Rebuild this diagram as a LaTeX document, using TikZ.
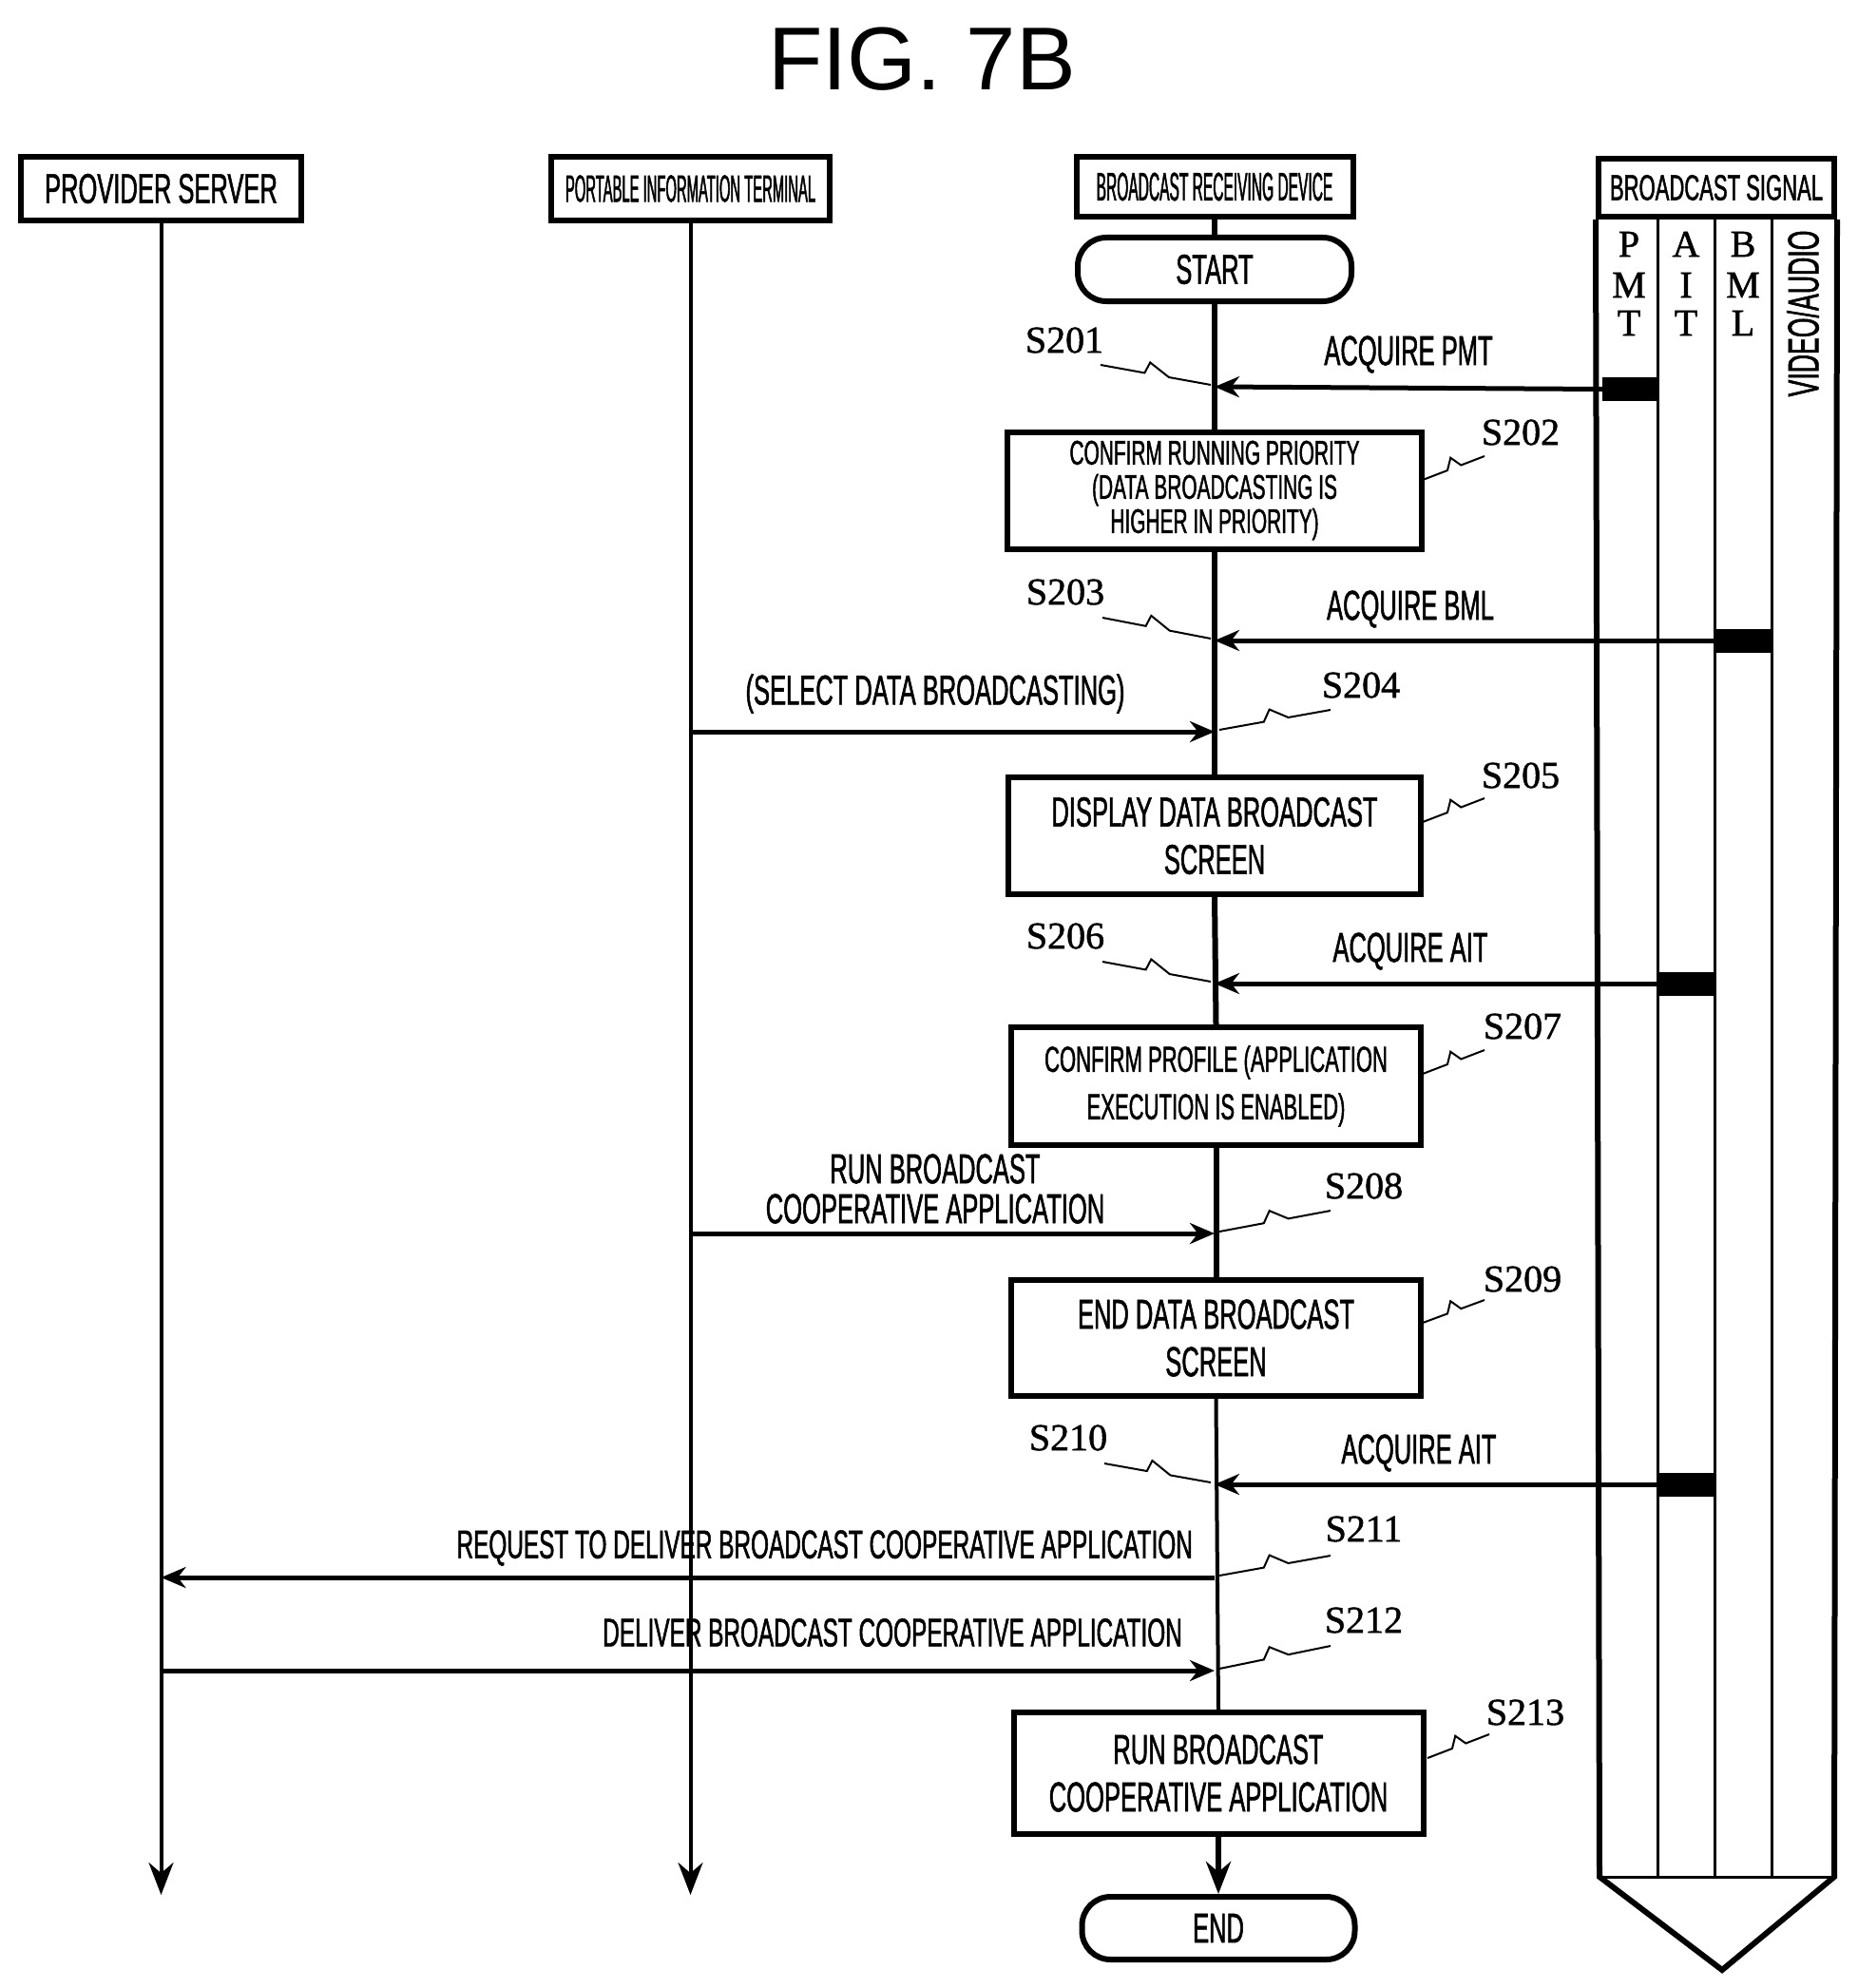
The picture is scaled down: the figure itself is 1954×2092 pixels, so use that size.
\documentclass[tikz,border=0pt]{standalone}
\usepackage{fontspec}
\setmainfont{Liberation Sans}
\newfontfamily\cf[FakeStretch=0.58,FakeBold=1.2]{Liberation Sans}
\newfontfamily\cfn[FakeStretch=0.37,FakeBold=1.2]{Liberation Sans}
\newfontfamily\stepfont[FakeBold=1.2]{Liberation Serif}
\usetikzlibrary{calc,arrows.meta}
\newcommand\fs[2]{\fontsize{#1}{#2}\selectfont}
\newcommand\sqg[2]{\draw[sq] (#1) -- ($(#1)!0.4!(#2)$) -- ($(#1)!0.45!(#2)+(0,-12)$) -- ($(#1)!0.62!(#2)$) -- (#2);}
\begin{document}
\begin{tikzpicture}[x=1pt,y=-1pt,
  box/.style={draw,line width=6pt,align=center,inner sep=0pt},
  term/.style={box,rounded corners=30pt},
  ll/.style={line width=5pt},
  arr/.style={line width=5pt,-{Stealth[length=26pt,width=22pt]}},
  endarr/.style={line width=5pt,-{Stealth[length=34pt,width=26pt]}},
  lbl/.style={font=\cf\fs{44}{50},inner sep=0pt,align=center},
  stp/.style={font=\stepfont\fs{40}{44},inner sep=0pt},
  sq/.style={line width=2pt},
  bar/.style={fill=black}]
\useasboundingbox (0,0) rectangle (1954,2092);
\node[font=\fs{94}{100}] (title) at (970,62) {FIG. 7B};
% headers
\node[box,minimum width=295pt,minimum height=67pt,font=\cf\fs{44}{50}] (ps) at (169.5,198.5) {PROVIDER SERVER};
\node[box,minimum width=293pt,minimum height=67pt,font=\cfn\fs{40}{46}] (pit) at (726.5,198.5) {PORTABLE INFORMATION TERMINAL};
\node[box,minimum width=291pt,minimum height=63pt,font=\cfn\fs{42}{46}] (brd) at (1278,196.5) {BROADCAST RECEIVING DEVICE};
\node[box,minimum width=248pt,minimum height=61pt,font=\cf\fs{38}{44}] (bs) at (1806,197.5) {BROADCAST SIGNAL};
% receiver boxes
\node[term,minimum width=288pt,minimum height=67pt,font=\cf\fs{44}{50}] (start) at (1278,283.5) {START};
\node[box,minimum width=436pt,minimum height=123pt,font=\cf\fs{36}{36}] (s202) at (1278,516) {CONFIRM RUNNING PRIORITY\\(DATA BROADCASTING IS\\HIGHER IN PRIORITY)};
\node[box,minimum width=434pt,minimum height=123pt,font=\cf\fs{44}{50}] (s205) at (1278,879.5) {DISPLAY DATA BROADCAST\\SCREEN};
\node[box,minimum width=431pt,minimum height=124pt,font=\cf\fs{38}{50}] (s207) at (1279.5,1143) {CONFIRM PROFILE (APPLICATION\\EXECUTION IS ENABLED)};
\node[box,minimum width=431pt,minimum height=122pt,font=\cf\fs{44}{50}] (s209) at (1279.5,1408) {END DATA BROADCAST\\SCREEN};
\node[box,minimum width=431pt,minimum height=128pt,font=\cf\fs{44}{50}] (s213) at (1282,1866) {RUN BROADCAST\\COOPERATIVE APPLICATION};
\node[term,minimum width=287pt,minimum height=66pt,font=\cf\fs{44}{50}] (end) at (1282,2029) {END};
% lifeline coordinates
\coordinate (psend) at (ps.south |- 0,1994);
\coordinate (pitend) at (pit.south |- 0,1994);
\coordinate (r201) at (1278,407);
\coordinate (r203) at (1278,674);
\coordinate (r204) at (1278,770);
\coordinate (r206) at (1278,1035);
\coordinate (r208) at (1278,1298);
\coordinate (r210) at (1278,1562);
\coordinate (r211) at (1278,1660);
\coordinate (r212) at (1278,1758);
\coordinate (p204) at (pit.south |- r204);
\coordinate (p208) at (pit.south |- r208);
\coordinate (v211) at (ps.south |- r211);
\coordinate (v212) at (ps.south |- r212);
% lifelines
\draw[endarr,line width=4pt] (ps.south) -- (psend);
\draw[endarr,line width=4pt] (pit.south) -- (pitend);
\draw[ll,line width=6pt] (brd.south) -- (start.north);
\draw[ll,line width=6pt] (start.south) -- (s202.north);
\draw[ll,line width=6pt] (s202.south) -- (s205.north);
\draw[ll,line width=6pt] (s205.south) -- (s207.north);
\draw[ll,line width=6pt] (s207.south) -- (s209.north);
\draw[ll,line width=4pt] (s209.south) -- (s213.north);
\draw[endarr,line width=6pt] (s213.south) -- (end.north);
% broadcast signal body
\draw[line width=6pt,line join=miter] (bs.south west) -- (1683,1975) -- (1812,2073) -- (1930,1975) -- (bs.south east);
\draw[line width=3pt] (1683,1975) -- (1930,1975);
\foreach \x in {1744,1804,1864} \draw[line width=3pt] (\x,228) -- (\x,1975);
\foreach \t/\y in {P/257,M/300,T/340} \node[stp] at (1714,\y) {\t};
\foreach \t/\y in {A/257,I/300,T/340} \node[stp] at (1774,\y) {\t};
\foreach \t/\y in {B/257,M/300,L/340} \node[stp] at (1834,\y) {\t};
\node[rotate=90,font=\cf\fs{46}{50},inner sep=0pt] (va) at (1897,330) {VIDEO/AUDIO};
\node[bar,inner sep=0pt,minimum width=58pt,minimum height=25pt] (bpmt) at (1715,409.5) {};
\node[bar,inner sep=0pt,minimum width=58pt,minimum height=25pt] (bbml) at (1835,674) {};
\node[bar,inner sep=0pt,minimum width=58pt,minimum height=25pt] (bait1) at (1775,1035) {};
\node[bar,inner sep=0pt,minimum width=58pt,minimum height=25pt] (bait2) at (1775,1562) {};
% messages
\draw[arr] (bpmt.west) -- (r201);
\draw[arr] (bbml.west) -- (r203);
\draw[arr] (p204) -- (r204);
\draw[arr] (bait1.west) -- (r206);
\draw[arr] (p208) -- (r208);
\draw[arr] (bait2.west) -- (r210);
\draw[arr] (r211) -- (v211);
\draw[arr] (v212) -- (r212);
\node[lbl] (t201) at (1482,373) {ACQUIRE PMT};
\node[lbl] (t203) at (1484,641) {ACQUIRE BML};
\node[lbl] (t204) at (984,730) {(SELECT DATA BROADCASTING)};
\node[lbl] (t206) at (1484,1001) {ACQUIRE AIT};
\node[lbl,font=\cf\fs{44}{42}] (t208) at (984,1251) {RUN BROADCAST\\COOPERATIVE APPLICATION};
\node[lbl] (t210) at (1493,1529) {ACQUIRE AIT};
\node[lbl,anchor=east,font=\cf\fs{42}{50}] (t211) at (1255,1629) {REQUEST TO DELIVER BROADCAST COOPERATIVE APPLICATION};
\node[lbl,anchor=east,font=\cf\fs{42}{50}] (t212) at (1244,1718) {DELIVER BROADCAST COOPERATIVE APPLICATION};
% step labels
\node[stp] (n201) at (1120,358) {S201};
\node[stp] (n202) at (1600,455) {S202};
\node[stp] (n203) at (1121,623) {S203};
\node[stp] (n204) at (1432,721) {S204};
\node[stp] (n205) at (1600,816) {S205};
\node[stp] (n206) at (1121,985) {S206};
\node[stp] (n207) at (1602,1080) {S207};
\node[stp] (n208) at (1435,1248) {S208};
\node[stp] (n209) at (1602,1346) {S209};
\node[stp] (n210) at (1124,1513) {S210};
\node[stp] (n211) at (1435,1609) {S211};
\node[stp] (n212) at (1435,1705) {S212};
\node[stp] (n213) at (1605,1802) {S213};
\sqg{1158,384}{1274,405}
\sqg{1160,650}{1274,672}
\sqg{1160,1012}{1274,1033}
\sqg{1162,1540}{1274,1560}
\sqg{1283,768}{1400,747}
\sqg{1283,1296}{1400,1274}
\sqg{1283,1658}{1400,1637}
\sqg{1283,1756}{1400,1732}
\sqg{1497,505}{1562,480}
\sqg{1497,865}{1562,840}
\sqg{1497,1130}{1562,1105}
\sqg{1497,1392}{1562,1368}
\sqg{1502,1850}{1567,1825}
\end{tikzpicture}
\end{document}
